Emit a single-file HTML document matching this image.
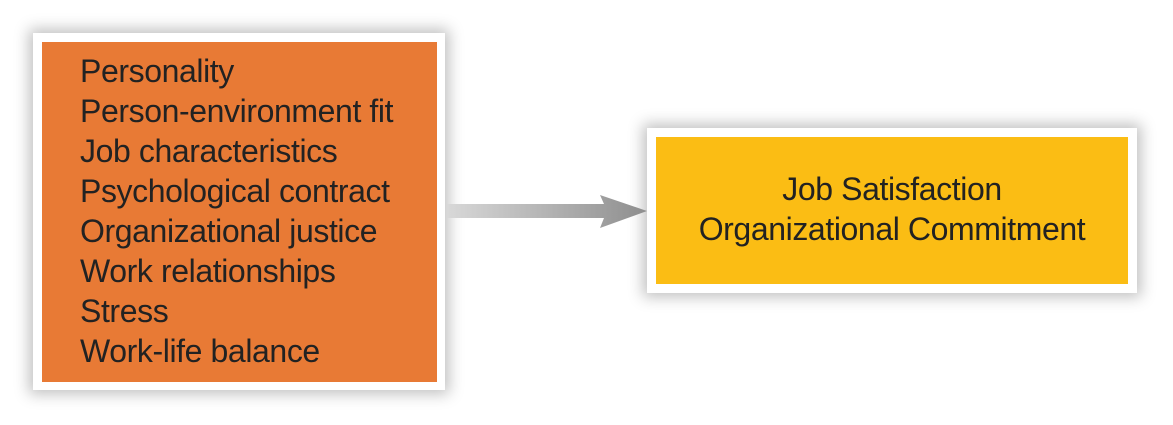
<!DOCTYPE html>
<html><head><style>
body{margin:0;width:1173px;height:425px;background:#fff;position:relative;overflow:hidden;font-family:"Liberation Sans",sans-serif;}
.frame{position:absolute;background:#fff;box-shadow:0 0 14px 4px rgba(0,0,0,0.25);}
.o{position:absolute;left:42px;top:42px;width:395px;height:340px;background:#e87a35;}
.y{position:absolute;left:656px;top:137px;width:472px;height:147px;background:#fbbd14;}
.t{position:absolute;left:80px;font-size:32px;color:#222;letter-spacing:-0.4px;white-space:nowrap;line-height:40px;}
.r{position:absolute;left:646px;width:492px;text-align:center;font-size:32px;color:#222;line-height:40px;letter-spacing:-0.4px;white-space:nowrap;}
</style></head><body>
<div class="frame" style="left:33px;top:33px;width:412px;height:357px;"></div>
<div class="o"></div>
<div class="frame" style="left:647px;top:128px;width:490px;height:165px;"></div>
<div class="y"></div>
<div class="t" style="top:51px">Personality<br>Person-environment fit<br>Job characteristics<br>Psychological contract<br>Organizational justice<br>Work relationships<br>Stress<br>Work-life balance</div>
<div class="r" style="top:169px">Job Satisfaction<br>Organizational Commitment</div>
<svg style="position:absolute;left:0;top:0" width="1173" height="425">
<defs><linearGradient id="g" x1="0" x2="1"><stop offset="0" stop-color="#d8d8d8"/><stop offset="1" stop-color="#8e8e8e"/></linearGradient></defs>
<polygon points="447,204 604,204 600,195 647,211 600,228 604,218 447,218" fill="url(#g)"/>
</svg>
</body></html>
